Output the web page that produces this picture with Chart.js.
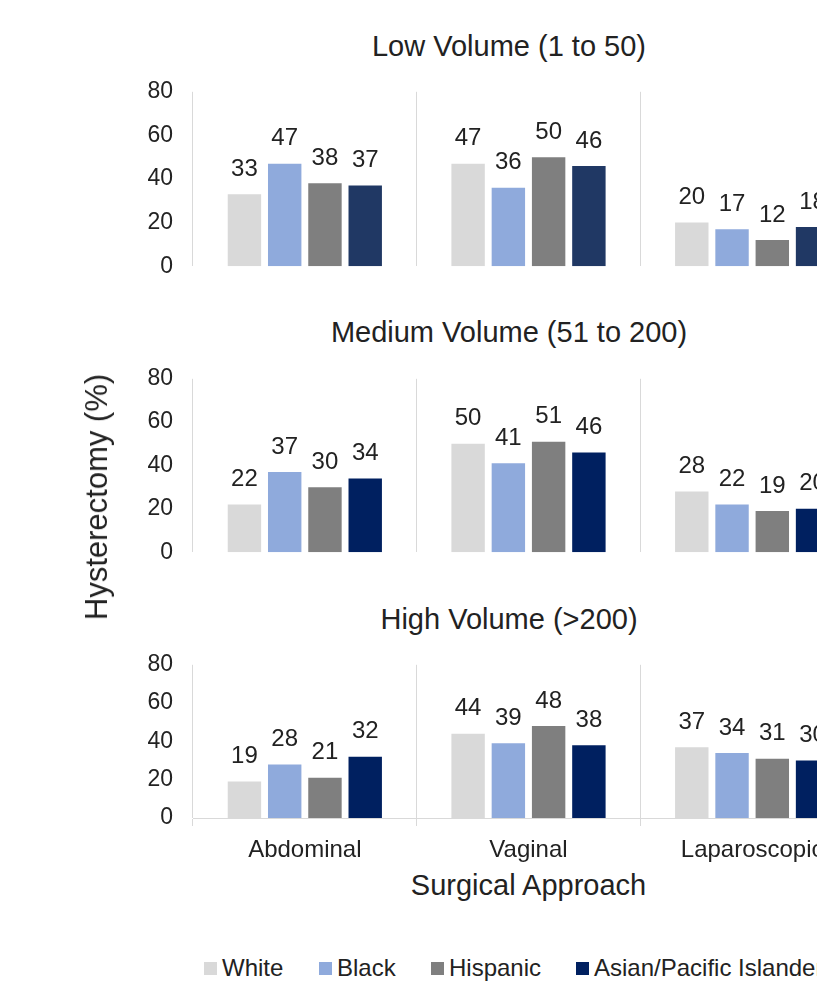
<!DOCTYPE html>
<html>
<head>
<meta charset="utf-8">
<script src="https://cdn.jsdelivr.net/npm/chart.js@4.4.1/dist/chart.umd.min.js"></script>
<style>
  body { margin: 0; background: #fff; }
  #wrap { position: relative; width: 817px; height: 985px; overflow: hidden; background: #fff;
          font-family: "Liberation Sans", Arial, sans-serif; color: #222; }
  canvas { position: absolute; left: 0; }
  .title { position: absolute; left: 0; width: 1018px; text-align: center; font-size: 29px; line-height: 34px; }
  #xtitle { position: absolute; left: 193px; width: 671px; top: 868px; text-align: center; font-size: 29px; line-height: 34px; }
  #ytitle { position: absolute; left: 97px; top: 497px; transform: translate(-50%, -50%) rotate(-90deg);
            white-space: nowrap; font-size: 31px; line-height: 34px; }
  .leg { position: absolute; top: 956px; font-size: 24px; line-height: 24px; white-space: nowrap; }
  .leg i { display: inline-block; width: 13px; height: 13px; margin-right: 5px; vertical-align: 1px; }
</style>
</head>
<body>
<div id="wrap">
  <div class="title" style="top:29px">Low Volume (1 to 50)</div>
  <div class="title" style="top:315px">Medium Volume (51 to 200)</div>
  <div class="title" style="top:602px">High Volume (&gt;200)</div>
  <canvas id="low" width="880" height="242" style="top:58px"></canvas>
  <canvas id="medium" width="880" height="241" style="top:345px"></canvas>
  <canvas id="high" width="880" height="237" style="top:631px"></canvas>
  <div id="ytitle">Hysterectomy (%)</div>
  <div id="xtitle">Surgical Approach</div>
  <div id="legend"></div>
</div>
<script>
// DATA
const categories = ['Abdominal', 'Vaginal', 'Laparoscopic'];
const races = ['White', 'Black', 'Hispanic', 'Asian/Pacific Islander'];
const yTicks = [0, 20, 40, 60, 80];

const lowWhite    = [33, 47, 20];
const lowBlack    = [47, 36, 17];
const lowHispanic = [38, 50, 12];
const lowAsian    = [37, 46, 18];

const medWhite    = [22, 50, 28];
const medBlack    = [37, 41, 22];
const medHispanic = [30, 51, 19];
const medAsian    = [34, 46, 20];

const highWhite    = [19, 44, 37];
const highBlack    = [28, 39, 34];
const highHispanic = [21, 48, 31];
const highAsian    = [32, 38, 30];

const COLORS = ['#d9d9d9', '#8faadc', '#7f7f7f', '#002060'];
const TEXT = '#222';
const FONT = '"Liberation Sans", Arial, sans-serif';

// value labels above each bar
const barLabels = {
    id: 'barLabels',
    afterDatasetsDraw(chart) {
        const ctx = chart.ctx;
        ctx.save();
        ctx.font = '24px ' + FONT;
        ctx.fillStyle = TEXT;
        ctx.textAlign = 'center';
        ctx.textBaseline = 'middle';
        chart.data.datasets.forEach((ds, i) => {
            chart.getDatasetMeta(i).data.forEach((bar, j) => {
                ctx.fillText(ds.data[j], bar.x, bar.y - 25);
            });
        });
        ctx.restore();
    }
};

function makePanel(id, series, darkColor, showX) {
    const colors = COLORS.slice();
    if (darkColor) colors[3] = darkColor;
    return new Chart(document.getElementById(id), {
        type: 'bar',
        data: {
            labels: categories,
            datasets: series.map((data, i) => ({
                label: races[i],
                data: data,
                backgroundColor: colors[i],
                borderWidth: 0,
                categoryPercentage: 0.72,
                barPercentage: 0.83
            }))
        },
        options: {
            responsive: false,
            animation: false,
            devicePixelRatio: 1,
            layout: { padding: { left: 0, right: 16, top: 20, bottom: showX ? 0 : 10 } },
            plugins: { legend: { display: false }, tooltip: { enabled: false } },
            scales: {
                x: {
                    afterFit: s => { s.height = showX ? 50 : 0; },
                    grid: { offset: true, color: '#d9d9d9', lineWidth: 1, drawTicks: showX, tickLength: 8 },
                    border: { display: showX, color: '#d9d9d9' },
                    ticks: { display: showX, padding: 10, color: TEXT, font: { size: 24, family: FONT } }
                },
                y: {
                    min: 0, max: 80,
                    afterFit: s => { s.width = 193; },
                    afterBuildTicks: s => { s.ticks = yTicks.map(v => ({ value: v })); },
                    grid: { display: false, drawTicks: false },
                    border: { display: false },
                    ticks: { padding: 20, color: TEXT, font: { size: 23, family: FONT } }
                }
            }
        },
        plugins: [barLabels]
    });
}

makePanel('low', [lowWhite, lowBlack, lowHispanic, lowAsian], '#203864', false);
makePanel('medium', [medWhite, medBlack, medHispanic, medAsian], null, false);
makePanel('high', [highWhite, highBlack, highHispanic, highAsian], null, true);

// legend
const legendLeft = [204, 319, 431, 576];
const legend = document.getElementById('legend');
races.forEach((r, i) => {
    const el = document.createElement('div');
    el.className = 'leg';
    el.style.left = legendLeft[i] + 'px';
    el.innerHTML = `<i style="background:${COLORS[i]}"></i>${r}`;
    legend.appendChild(el);
});
</script>
</body>
</html>
